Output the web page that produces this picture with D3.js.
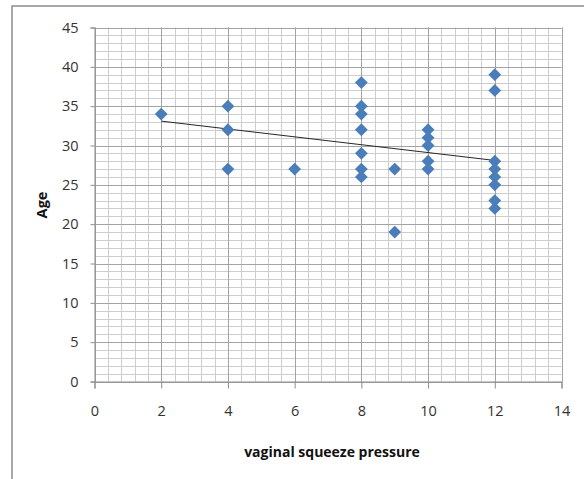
<!DOCTYPE html>
<html><head><meta charset="utf-8">
<script src="https://cdn.jsdelivr.net/npm/d3@7/dist/d3.min.js"></script>
<style>body{margin:0;background:#fff}svg{display:block}</style>
</head><body>
<script>
// Data
const pressure = [2, 4,4,4, 6, 8,8,8,8,8,8,8, 9,9, 10,10,10,10,10, 12,12,12,12,12,12,12,12];
const age      = [34, 35,32,27, 27, 38,35,34,32,29,27,26, 27,19, 32,31,30,28,27, 39,37,28,27,26,25,23,22];
const trendX = [2, 12];
const trendY = [33.1, 28.1];
const xTicks = [0,2,4,6,8,10,12,14];
const yTicks = [0,5,10,15,20,25,30,35,40,45];
const xLabel = "vaginal squeeze pressure";
const yLabel = "Age";

const W = 584, H = 479;
const svg = d3.select("body").append("svg").attr("width", W).attr("height", H);
const font = "'Open Sans', 'Liberation Sans', sans-serif";

// outer frame (cropped at right/bottom)
svg.append("rect").attr("x", 12).attr("y", 6).attr("width", 700).attr("height", 700)
  .attr("fill", "none").attr("stroke", "#8c8c8c").attr("stroke-width", 1.5);

const x = d3.scaleLinear().domain([0, 14]).range([94.5, 561.5]);
const y = d3.scaleLinear().domain([0, 45]).range([381.5, 27.5]);

const g = svg.append("g");
// minor grid
const minorX = d3.range(0, 14.0001, 0.4).map(v => +v.toFixed(2));
const minorY = d3.range(0, 45.0001, 1);
g.selectAll(".mx").data(minorX).enter().append("line")
  .attr("x1", d => Math.round(x(d)) + 0.5).attr("x2", d => Math.round(x(d)) + 0.5)
  .attr("y1", y(45)).attr("y2", y(0)).attr("stroke", "#cdcdcd").attr("stroke-width", 1);
g.selectAll(".my").data(minorY).enter().append("line")
  .attr("y1", d => Math.round(y(d)) + 0.5).attr("y2", d => Math.round(y(d)) + 0.5)
  .attr("x1", x(0)).attr("x2", x(14)).attr("stroke", "#cdcdcd").attr("stroke-width", 1);
// major grid
g.selectAll(".Mx").data(xTicks).enter().append("line")
  .attr("x1", d => Math.round(x(d)) + 0.5).attr("x2", d => Math.round(x(d)) + 0.5)
  .attr("y1", y(45)).attr("y2", y(0)).attr("stroke", "#a3a3a3").attr("stroke-width", 1);
g.selectAll(".My").data(yTicks).enter().append("line")
  .attr("y1", d => Math.round(y(d)) + 0.5).attr("y2", d => Math.round(y(d)) + 0.5)
  .attr("x1", x(0)).attr("x2", x(14)).attr("stroke", "#a3a3a3").attr("stroke-width", 1);

// axes
const xAxis = d3.axisBottom(x).tickValues(xTicks).tickSize(7).tickPadding(17).tickFormat(d3.format("d"));
const yAxis = d3.axisLeft(y).tickValues(yTicks).tickSize(4).tickPadding(12).tickFormat(d3.format("d"));
const xa = svg.append("g").attr("transform", `translate(0,${y(0)})`).call(xAxis);
const ya = svg.append("g").attr("transform", `translate(${x(0)},0)`).call(yAxis);
[xa, ya].forEach(a => {
  a.select(".domain").attr("stroke", "#8c8c8c");
  a.selectAll(".tick line").attr("stroke", "#8c8c8c");
  a.selectAll("text").attr("fill", "#333").style("font-family", font).style("font-size", "14.5px");
});

// trendline
svg.append("line")
  .attr("x1", x(trendX[0])).attr("y1", y(trendY[0]))
  .attr("x2", x(trendX[1])).attr("y2", y(trendY[1]))
  .attr("stroke", "#262626").attr("stroke-width", 1);

// points
const sym = d3.symbol().type(d3.symbolSquare).size(82);
svg.append("g").selectAll("path").data(pressure.map((p, i) => [p, age[i]])).enter().append("path")
  .attr("d", sym)
  .attr("transform", d => `translate(${x(d[0])},${y(d[1])}) rotate(45)`)
  .attr("fill", "#4a7ebb");

// labels
svg.append("text").attr("x", 332).attr("y", 457).attr("text-anchor", "middle")
  .style("font-family", font).style("font-size", "14px").style("font-weight", "bold")
  .attr("fill", "#111").text(xLabel);
svg.append("text").attr("transform", "translate(47,205) rotate(-90)").attr("text-anchor", "middle")
  .style("font-family", font).style("font-size", "14.5px").style("font-weight", "bold")
  .attr("fill", "#111").text(yLabel);
</script>
</body></html>
